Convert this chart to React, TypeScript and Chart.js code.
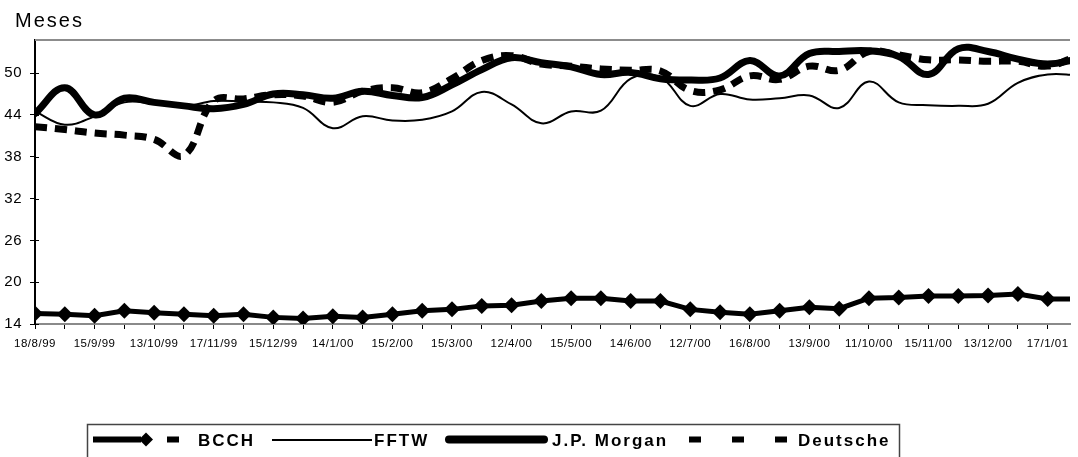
import React, { useEffect, useRef } from 'react';
import { Chart, registerables } from 'chart.js';

Chart.register(...registerables);

// ---- data ----
const tickLabels = [
  '18/8/99', '15/9/99', '13/10/99', '17/11/99', '15/12/99', '14/1/00',
  '15/2/00', '15/3/00', '12/4/00', '15/5/00', '14/6/00', '12/7/00',
  '16/8/00', '13/9/00', '11/10/00', '15/11/00', '13/12/00', '17/1/01',
];
const yTicks = [14, 20, 26, 32, 38, 44, 50];
const seriesNames = ['BCCH', 'FFTW', 'J.P. Morgan', 'Deutsche'];

const bcch = [15.5, 15.4, 15.2, 15.9, 15.6, 15.4, 15.2, 15.4, 14.95, 14.8, 15.1, 14.95, 15.4, 15.9, 16.1, 16.6, 16.7, 17.3, 17.7, 17.7, 17.3, 17.3, 16.1, 15.7, 15.4, 15.9, 16.4, 16.2, 17.7, 17.8, 18.0, 18.0, 18.1, 18.3, 17.6, 17.6];
const fftw = [44.5, 42.6, 43.8, 45.8, 45.6, 45.2, 46.0, 45.9, 45.8, 45.0, 42.1, 43.8, 43.2, 43.3, 44.5, 47.3, 45.5, 42.8, 44.5, 44.6, 49.2, 49.4, 45.3, 47.0, 46.2, 46.4, 46.8, 45.0, 48.8, 45.8, 45.4, 45.3, 45.6, 48.6, 49.8, 49.7];
const jpMorgan = [44.2, 47.9, 44.0, 46.4, 45.8, 45.3, 44.9, 45.5, 47.0, 46.9, 46.4, 47.4, 46.8, 46.5, 48.3, 50.5, 52.2, 51.5, 50.9, 49.8, 50.1, 49.2, 49.0, 49.3, 51.8, 49.6, 52.8, 53.1, 53.2, 52.4, 49.8, 53.5, 53.1, 52.0, 51.3, 52.0];
const deutsche = [42.3, 41.9, 41.4, 41.1, 40.5, 38.2, 46.0, 46.3, 46.9, 46.7, 45.8, 47.4, 47.9, 47.2, 49.2, 51.8, 52.5, 51.3, 51.0, 50.6, 50.4, 50.3, 47.5, 47.6, 49.6, 49.1, 51.0, 50.4, 53.1, 52.6, 51.9, 51.9, 51.7, 51.7, 51.0, 52.5];

const FONT = '"Liberation Sans", Arial, sans-serif';

const decorPlugin = {
  id: 'decor',
  beforeDraw(chart: any) {
    const ctx = chart.ctx;
    ctx.save();
    ctx.fillStyle = '#fff';
    ctx.fillRect(0, 0, chart.width, chart.height);
    ctx.restore();
    ctx.letterSpacing = '0.5px';
  },
  afterDraw(chart: any) {
    const { ctx, chartArea } = chart;
    const yScale = chart.scales.y;
    ctx.save();
    // top border of plot area
    ctx.strokeStyle = '#8c8c8c';
    ctx.lineWidth = 2;
    ctx.beginPath();
    ctx.moveTo(chartArea.left, chartArea.top);
    ctx.lineTo(chartArea.right, chartArea.top);
    ctx.stroke();

    // inner part of the y tick marks (they cross the axis)
    ctx.strokeStyle = '#000';
    ctx.lineWidth = 1;
    yTicks.forEach((v) => {
      const py = Math.round(yScale.getPixelForValue(v)) + 0.5;
      ctx.beginPath();
      ctx.moveTo(chartArea.left, py);
      ctx.lineTo(chartArea.left + 4, py);
      ctx.stroke();
    });

    // axis title "Meses"
    ctx.letterSpacing = '2px';
    ctx.fillStyle = '#000';
    ctx.font = `20px ${FONT}`;
    ctx.textAlign = 'left';
    ctx.textBaseline = 'alphabetic';
    ctx.fillText('Meses', 15, 27);

    // legend box
    ctx.strokeStyle = '#444';
    ctx.lineWidth = 1.5;
    ctx.strokeRect(87.5, 424.5, 812, 40);

    const ly = 439.5;
    ctx.strokeStyle = '#000';
    ctx.fillStyle = '#000';
    // BCCH sample
    ctx.lineWidth = 6;
    ctx.lineCap = 'butt';
    ctx.beginPath();
    ctx.moveTo(93, ly);
    ctx.lineTo(141, ly);
    ctx.stroke();
    ctx.beginPath();
    ctx.moveTo(146, ly - 7);
    ctx.lineTo(153, ly);
    ctx.lineTo(146, ly + 7);
    ctx.lineTo(139, ly);
    ctx.closePath();
    ctx.fill();
    ctx.fillRect(167, ly - 3, 12, 6);
    // FFTW sample
    ctx.lineWidth = 2;
    ctx.beginPath();
    ctx.moveTo(272, ly + 0.5);
    ctx.lineTo(372, ly + 0.5);
    ctx.stroke();
    // J.P. Morgan sample
    ctx.lineWidth = 8;
    ctx.lineCap = 'round';
    ctx.beginPath();
    ctx.moveTo(449, ly);
    ctx.lineTo(544, ly);
    ctx.stroke();
    // Deutsche sample
    ctx.fillRect(689, ly - 3, 12, 6);
    ctx.fillRect(732, ly - 3, 12, 6);
    ctx.fillRect(775, ly - 3, 12, 6);

    // legend texts
    ctx.font = `bold 17px ${FONT}`;
    ctx.letterSpacing = '2px';
    ctx.textBaseline = 'middle';
    const xs = [198, 374, 552, 798];
    seriesNames.forEach((n, i) => ctx.fillText(n, xs[i], ly + 2));
    ctx.restore();
  },
};

export default function App() {
  const ref = useRef<HTMLCanvasElement>(null);

  useEffect(() => {
    const idx = bcch.map((_, i) => i);
    const chart = new Chart(ref.current as HTMLCanvasElement, {
      type: 'line',
      data: {
        labels: idx,
        datasets: [
          {
            label: seriesNames[0],
            data: bcch,
            borderColor: '#000',
            backgroundColor: '#000',
            borderWidth: 5,
            tension: 0,
            pointStyle: 'rectRot',
            pointRadius: 8,
            pointBorderWidth: 0,
            pointBackgroundColor: '#000',
          },
          {
            label: seriesNames[1],
            data: fftw,
            borderColor: '#000',
            borderWidth: 2,
            tension: 0.4,
            pointRadius: 0,
          },
          {
            label: seriesNames[2],
            data: jpMorgan,
            borderColor: '#000',
            borderWidth: 7,
            tension: 0.4,
            pointRadius: 0,
            borderCapStyle: 'round',
            borderJoinStyle: 'round',
          },
          {
            label: seriesNames[3],
            data: deutsche,
            borderColor: '#000',
            borderWidth: 7,
            borderDash: [12, 8],
            tension: 0.4,
            pointRadius: 0,
          },
        ],
      },
      options: {
        responsive: false,
        animation: false,
        layout: { padding: { left: 0, top: 40, right: 0, bottom: 0 } },
        plugins: {
          legend: { display: false },
          title: { display: false },
          tooltip: { enabled: false },
        },
        scales: {
          x: {
            type: 'linear',
            min: 0,
            max: 34.75,
            afterFit: (s: any) => { s.height = 133; },
            afterBuildTicks: (s: any) => {
              s.ticks = idx.slice(0, 35).map((v) => ({ value: v }));
            },
            border: { display: true, color: '#8a8a8a', width: 2 },
            grid: {
              display: true,
              drawOnChartArea: false,
              drawTicks: true,
              tickLength: 5,
              color: '#000',
              tickColor: '#000',
            },
            ticks: {
              autoSkip: false,
              maxRotation: 0,
              minRotation: 0,
              padding: 8,
              color: '#000',
              font: { family: FONT, size: 11.5 },
              callback: (v: any) => (v % 2 === 0 ? tickLabels[v / 2] : ''),
            },
          },
          y: {
            min: 14,
            max: 54.75,
            afterFit: (s: any) => { s.width = 35; },
            afterBuildTicks: (s: any) => {
              s.ticks = yTicks.map((v) => ({ value: v }));
            },
            border: { display: true, color: '#000', width: 2 },
            grid: {
              display: true,
              drawOnChartArea: false,
              drawTicks: true,
              tickLength: 5,
              color: '#000',
              tickColor: '#000',
            },
            ticks: {
              padding: 8,
              color: '#000',
              font: { family: FONT, size: 15 },
            },
          },
        },
      },
      plugins: [decorPlugin],
    } as any);
    return () => chart.destroy();
  }, []);

  return (
    <div style={{ position: 'fixed', left: 0, top: 0, width: 1078, height: 457, background: '#fff' }}>
      <canvas ref={ref} width={1078} height={457} style={{ display: 'block' }} />
    </div>
  );
}
